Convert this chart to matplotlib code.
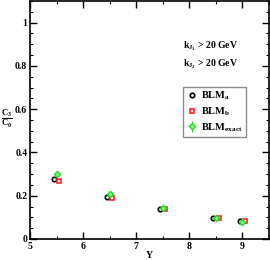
import matplotlib
matplotlib.use("Agg")
import matplotlib.pyplot as plt
from matplotlib.ticker import MultipleLocator

plt.rcParams['font.family'] = ['Liberation Serif', 'DejaVu Serif']
plt.rcParams['mathtext.fontset'] = 'custom'
plt.rcParams['mathtext.rm'] = 'Liberation Serif:bold'
plt.rcParams['mathtext.it'] = 'Liberation Serif:bold'
plt.rcParams['mathtext.bf'] = 'Liberation Serif:bold'

Y = [5.5, 6.5, 7.5, 8.5, 9.0]
blm_a = [0.276, 0.193, 0.137, 0.099, 0.085]
blm_b = [0.268, 0.190, 0.137, 0.099, 0.085]
blm_exact = [0.302, 0.210, 0.143, 0.097, 0.078]
blm_exact_err = [0.006, 0.012, 0.006, 0.005, 0.006]
offset = 0.05

fig = plt.figure(figsize=(2.7, 2.6), dpi=100)
ax = fig.add_axes([30/270, 21/260, 239/270, 238/260])

ax.plot([y - offset for y in Y], blm_a, 'o', ms=3.2, mfc='none', mec='black', mew=1.2,
        label=r'BLM$_{\rm a}$', zorder=3)
ax.plot([y + offset for y in Y], blm_b, 's', ms=3.2, mfc='none', mec='#ff2020', mew=1.2,
        label=r'BLM$_{\rm b}$', zorder=3)
ax.errorbar(Y, blm_exact, yerr=blm_exact_err, fmt='D', ms=3, mfc='#a0ffa0', mec='#20e020',
            mew=1.1, ecolor='#20e020', elinewidth=1, capsize=0,
            label=r'BLM$_{\rm exact}$', zorder=4)

ax.set_xlim(5, 9.5)
ax.set_ylim(0, 1.1)
ax.xaxis.set_major_locator(MultipleLocator(1))
ax.xaxis.set_minor_locator(MultipleLocator(0.5))
ax.yaxis.set_major_locator(MultipleLocator(0.2))
ax.yaxis.set_minor_locator(MultipleLocator(0.05))
ax.tick_params(which='both', direction='in', top=True, right=True, labelsize=7)
ax.tick_params(which='major', length=5, width=1)
ax.tick_params(which='minor', length=2.5, width=0.8)
ax.tick_params(axis='x', pad=2)
ax.tick_params(axis='y', pad=2)
ax.set_yticks([0, 0.2, 0.4, 0.6, 0.8, 1.0])
ax.set_yticklabels(['0', '0.2', '0.4', '0.6', '0.8', '1'])
for lbl in ax.get_xticklabels() + ax.get_yticklabels():
    lbl.set_fontweight('bold')
for s in ax.spines.values():
    s.set_linewidth(1.2)

ax.set_xlabel('Y', fontsize=7, fontweight='bold', labelpad=0)
fig.text(7/270, 1 - 119/260, r'$\frac{\rm C_3}{\rm C_0}$', fontsize=9, ha='center', va='center')

ax.text(0.64, 0.80, r'k$_{\rm J_1}$ > 20 GeV', transform=ax.transAxes, fontsize=7, fontweight='bold')
ax.text(0.64, 0.725, r'k$_{\rm J_2}$ > 20 GeV', transform=ax.transAxes, fontsize=7, fontweight='bold')

leg = ax.legend(loc='upper left', bbox_to_anchor=(0.64, 0.64), frameon=True,
                fancybox=False, edgecolor='#707070', handletextpad=0.2, handlelength=1.2,
                borderpad=0.3, labelspacing=0.3, borderaxespad=0,
                prop={'weight': 'bold', 'size': 7.5})
leg.get_frame().set_linewidth(1)

fig.savefig('out.png', dpi=100)
